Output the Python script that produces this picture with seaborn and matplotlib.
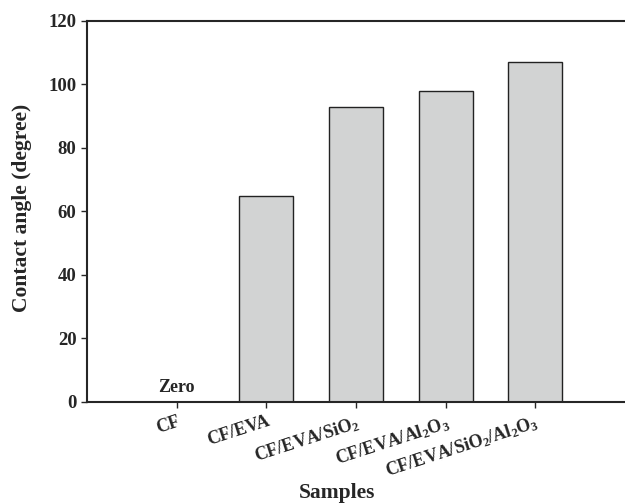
import matplotlib
matplotlib.use('Agg')
import matplotlib.pyplot as plt
import seaborn as sns
import pandas as pd

samples = ['CF', 'CF/EVA', 'CF/EVA/SiO$_2$', 'CF/EVA/Al$_2$O$_3$', 'CF/EVA/SiO$_2$/Al$_2$O$_3$']
angles = [0, 65, 93, 98, 107]

sns.set_style('ticks')
plt.rcParams['font.family'] = ['Liberation Serif', 'DejaVu Serif']
plt.rcParams['font.weight'] = 'bold'
plt.rcParams['mathtext.fontset'] = 'custom'
plt.rcParams['mathtext.rm'] = 'Liberation Serif:bold'
plt.rcParams['mathtext.it'] = 'Liberation Serif:bold'
plt.rcParams['mathtext.bf'] = 'Liberation Serif:bold'

df = pd.DataFrame({'sample': samples, 'angle': angles})

fig = plt.figure(figsize=(6.25, 5.03), dpi=100)
ax = fig.add_axes([0.1392, 0.2008, 0.8608, 0.7575])
sns.barplot(data=df, x='sample', y='angle', color='#d2d3d3', width=0.6,
            edgecolor='#222222', linewidth=1.0, saturation=1, ax=ax)

ax.set_xlim(-1, 5)
ax.set_ylim(0, 120)
ax.set_yticks([0, 20, 40, 60, 80, 100, 120])
ax.text(0, 1.9, 'Zero', ha='center', va='bottom', fontsize=13, fontweight='bold')

for s in ['left', 'bottom', 'top']:
    ax.spines[s].set_linewidth(1.5)
ax.spines['right'].set_visible(False)
ax.tick_params(direction='out', length=4, width=1)
ax.tick_params(axis='y', labelsize=13.5)
ax.tick_params(axis='x', labelsize=13, pad=4)
plt.setp(ax.get_xticklabels(), rotation=18, ha='right', rotation_mode='anchor', fontweight='bold')
plt.setp(ax.get_yticklabels(), fontweight='bold')

ax.set_xlabel('Samples', fontsize=15.5, fontweight='bold', va='center')
ax.xaxis.set_label_coords(0.465, -0.239)
ax.set_ylabel('Contact angle (degree)', fontsize=15.5, fontweight='bold', va='center')
ax.yaxis.set_label_coords(-0.121, 0.51)

fig.savefig('out.png', dpi=100)
